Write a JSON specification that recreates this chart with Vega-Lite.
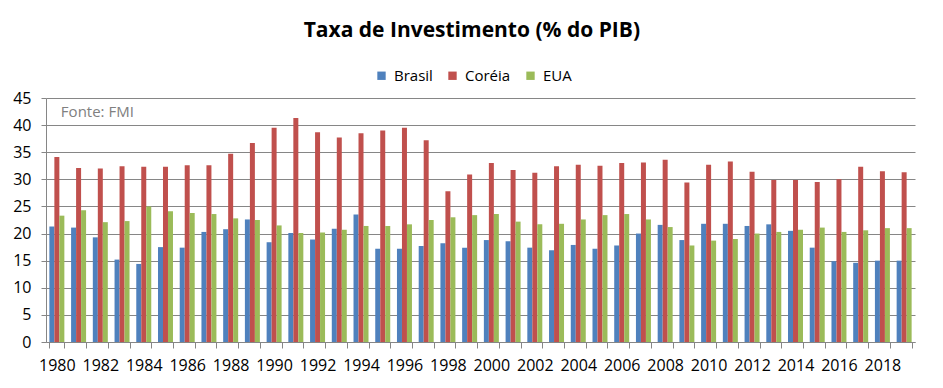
{
  "$schema": "https://vega.github.io/schema/vega-lite/v6.json",
  "width": 869,
  "height": 244,
  "padding": {"left": 12, "top": 20, "right": 24, "bottom": 10},
  "background": "white",
  "title": {
    "text": "Taxa de Investimento (% do PIB)",
    "font": "Open Sans",
    "fontSize": 21,
    "fontWeight": "bold",
    "color": "#000000",
    "anchor": "middle",
    "frame": "bounds",
    "dx": 8,
    "offset": 27
  },
  "config": {
    "view": {"stroke": null},
    "font": "Open Sans"
  },
  "datasets": {
    "inv": [
      {"Ano": "1980", "Pais": "Brasil", "Valor": 21.3}, {"Ano": "1980", "Pais": "Coréia", "Valor": 34.1}, {"Ano": "1980", "Pais": "EUA", "Valor": 23.3},
      {"Ano": "1981", "Pais": "Brasil", "Valor": 21.1}, {"Ano": "1981", "Pais": "Coréia", "Valor": 32.1}, {"Ano": "1981", "Pais": "EUA", "Valor": 24.3},
      {"Ano": "1982", "Pais": "Brasil", "Valor": 19.3}, {"Ano": "1982", "Pais": "Coréia", "Valor": 32.0}, {"Ano": "1982", "Pais": "EUA", "Valor": 22.1},
      {"Ano": "1983", "Pais": "Brasil", "Valor": 15.2}, {"Ano": "1983", "Pais": "Coréia", "Valor": 32.4}, {"Ano": "1983", "Pais": "EUA", "Valor": 22.3},
      {"Ano": "1984", "Pais": "Brasil", "Valor": 14.4}, {"Ano": "1984", "Pais": "Coréia", "Valor": 32.3}, {"Ano": "1984", "Pais": "EUA", "Valor": 25.0},
      {"Ano": "1985", "Pais": "Brasil", "Valor": 17.5}, {"Ano": "1985", "Pais": "Coréia", "Valor": 32.3}, {"Ano": "1985", "Pais": "EUA", "Valor": 24.1},
      {"Ano": "1986", "Pais": "Brasil", "Valor": 17.4}, {"Ano": "1986", "Pais": "Coréia", "Valor": 32.6}, {"Ano": "1986", "Pais": "EUA", "Valor": 23.8},
      {"Ano": "1987", "Pais": "Brasil", "Valor": 20.3}, {"Ano": "1987", "Pais": "Coréia", "Valor": 32.6}, {"Ano": "1987", "Pais": "EUA", "Valor": 23.6},
      {"Ano": "1988", "Pais": "Brasil", "Valor": 20.8}, {"Ano": "1988", "Pais": "Coréia", "Valor": 34.7}, {"Ano": "1988", "Pais": "EUA", "Valor": 22.8},
      {"Ano": "1989", "Pais": "Brasil", "Valor": 22.6}, {"Ano": "1989", "Pais": "Coréia", "Valor": 36.7}, {"Ano": "1989", "Pais": "EUA", "Valor": 22.5},
      {"Ano": "1990", "Pais": "Brasil", "Valor": 18.4}, {"Ano": "1990", "Pais": "Coréia", "Valor": 39.5}, {"Ano": "1990", "Pais": "EUA", "Valor": 21.5},
      {"Ano": "1991", "Pais": "Brasil", "Valor": 20.1}, {"Ano": "1991", "Pais": "Coréia", "Valor": 41.3}, {"Ano": "1991", "Pais": "EUA", "Valor": 20.1},
      {"Ano": "1992", "Pais": "Brasil", "Valor": 18.9}, {"Ano": "1992", "Pais": "Coréia", "Valor": 38.7}, {"Ano": "1992", "Pais": "EUA", "Valor": 20.2},
      {"Ano": "1993", "Pais": "Brasil", "Valor": 20.9}, {"Ano": "1993", "Pais": "Coréia", "Valor": 37.7}, {"Ano": "1993", "Pais": "EUA", "Valor": 20.7},
      {"Ano": "1994", "Pais": "Brasil", "Valor": 23.5}, {"Ano": "1994", "Pais": "Coréia", "Valor": 38.5}, {"Ano": "1994", "Pais": "EUA", "Valor": 21.4},
      {"Ano": "1995", "Pais": "Brasil", "Valor": 17.2}, {"Ano": "1995", "Pais": "Coréia", "Valor": 39.0}, {"Ano": "1995", "Pais": "EUA", "Valor": 21.4},
      {"Ano": "1996", "Pais": "Brasil", "Valor": 17.2}, {"Ano": "1996", "Pais": "Coréia", "Valor": 39.5}, {"Ano": "1996", "Pais": "EUA", "Valor": 21.7},
      {"Ano": "1997", "Pais": "Brasil", "Valor": 17.7}, {"Ano": "1997", "Pais": "Coréia", "Valor": 37.2}, {"Ano": "1997", "Pais": "EUA", "Valor": 22.5},
      {"Ano": "1998", "Pais": "Brasil", "Valor": 18.2}, {"Ano": "1998", "Pais": "Coréia", "Valor": 27.8}, {"Ano": "1998", "Pais": "EUA", "Valor": 23.0},
      {"Ano": "1999", "Pais": "Brasil", "Valor": 17.4}, {"Ano": "1999", "Pais": "Coréia", "Valor": 30.9}, {"Ano": "1999", "Pais": "EUA", "Valor": 23.4},
      {"Ano": "2000", "Pais": "Brasil", "Valor": 18.8}, {"Ano": "2000", "Pais": "Coréia", "Valor": 33.0}, {"Ano": "2000", "Pais": "EUA", "Valor": 23.6},
      {"Ano": "2001", "Pais": "Brasil", "Valor": 18.6}, {"Ano": "2001", "Pais": "Coréia", "Valor": 31.7}, {"Ano": "2001", "Pais": "EUA", "Valor": 22.2},
      {"Ano": "2002", "Pais": "Brasil", "Valor": 17.4}, {"Ano": "2002", "Pais": "Coréia", "Valor": 31.2}, {"Ano": "2002", "Pais": "EUA", "Valor": 21.7},
      {"Ano": "2003", "Pais": "Brasil", "Valor": 16.9}, {"Ano": "2003", "Pais": "Coréia", "Valor": 32.4}, {"Ano": "2003", "Pais": "EUA", "Valor": 21.8},
      {"Ano": "2004", "Pais": "Brasil", "Valor": 17.9}, {"Ano": "2004", "Pais": "Coréia", "Valor": 32.7}, {"Ano": "2004", "Pais": "EUA", "Valor": 22.6},
      {"Ano": "2005", "Pais": "Brasil", "Valor": 17.2}, {"Ano": "2005", "Pais": "Coréia", "Valor": 32.5}, {"Ano": "2005", "Pais": "EUA", "Valor": 23.4},
      {"Ano": "2006", "Pais": "Brasil", "Valor": 17.8}, {"Ano": "2006", "Pais": "Coréia", "Valor": 33.0}, {"Ano": "2006", "Pais": "EUA", "Valor": 23.6},
      {"Ano": "2007", "Pais": "Brasil", "Valor": 20.0}, {"Ano": "2007", "Pais": "Coréia", "Valor": 33.1}, {"Ano": "2007", "Pais": "EUA", "Valor": 22.6},
      {"Ano": "2008", "Pais": "Brasil", "Valor": 21.6}, {"Ano": "2008", "Pais": "Coréia", "Valor": 33.6}, {"Ano": "2008", "Pais": "EUA", "Valor": 21.2},
      {"Ano": "2009", "Pais": "Brasil", "Valor": 18.8}, {"Ano": "2009", "Pais": "Coréia", "Valor": 29.4}, {"Ano": "2009", "Pais": "EUA", "Valor": 17.8},
      {"Ano": "2010", "Pais": "Brasil", "Valor": 21.8}, {"Ano": "2010", "Pais": "Coréia", "Valor": 32.7}, {"Ano": "2010", "Pais": "EUA", "Valor": 18.7},
      {"Ano": "2011", "Pais": "Brasil", "Valor": 21.8}, {"Ano": "2011", "Pais": "Coréia", "Valor": 33.3}, {"Ano": "2011", "Pais": "EUA", "Valor": 19.0},
      {"Ano": "2012", "Pais": "Brasil", "Valor": 21.4}, {"Ano": "2012", "Pais": "Coréia", "Valor": 31.4}, {"Ano": "2012", "Pais": "EUA", "Valor": 20.0},
      {"Ano": "2013", "Pais": "Brasil", "Valor": 21.7}, {"Ano": "2013", "Pais": "Coréia", "Valor": 29.9}, {"Ano": "2013", "Pais": "EUA", "Valor": 20.3},
      {"Ano": "2014", "Pais": "Brasil", "Valor": 20.5}, {"Ano": "2014", "Pais": "Coréia", "Valor": 29.9}, {"Ano": "2014", "Pais": "EUA", "Valor": 20.7},
      {"Ano": "2015", "Pais": "Brasil", "Valor": 17.4}, {"Ano": "2015", "Pais": "Coréia", "Valor": 29.5}, {"Ano": "2015", "Pais": "EUA", "Valor": 21.1},
      {"Ano": "2016", "Pais": "Brasil", "Valor": 14.9}, {"Ano": "2016", "Pais": "Coréia", "Valor": 30.0}, {"Ano": "2016", "Pais": "EUA", "Valor": 20.3},
      {"Ano": "2017", "Pais": "Brasil", "Valor": 14.6}, {"Ano": "2017", "Pais": "Coréia", "Valor": 32.3}, {"Ano": "2017", "Pais": "EUA", "Valor": 20.6},
      {"Ano": "2018", "Pais": "Brasil", "Valor": 15.0}, {"Ano": "2018", "Pais": "Coréia", "Valor": 31.5}, {"Ano": "2018", "Pais": "EUA", "Valor": 21.0},
      {"Ano": "2019", "Pais": "Brasil", "Valor": 15.0}, {"Ano": "2019", "Pais": "Coréia", "Valor": 31.3}, {"Ano": "2019", "Pais": "EUA", "Valor": 21.0}
    ],
    "nota": [{"Ano": "1980", "Valor": 42.5, "Texto": "Fonte: FMI"}]
  },
  "encoding": {
    "x": {
      "field": "Ano",
      "type": "ordinal",
      "title": null,
      "scale": {"paddingInner": 0.31, "paddingOuter": 0.155},
      "axis": {
        "labelAngle": 0,
        "labelExpr": "toNumber(datum.value) % 2 == 0 ? datum.label : ''",
        "labelOverlap": false,
        "labelFont": "Open Sans",
        "labelFontSize": 16,
        "labelColor": "#000000",
        "labelPadding": 9,
        "tickBand": "extent",
        "tickSize": 6,
        "tickColor": "#868686",
        "domainColor": "#868686",
        "grid": false
      }
    },
    "y": {
      "field": "Valor",
      "type": "quantitative",
      "title": null,
      "scale": {"domain": [0, 45], "nice": false},
      "axis": {
        "values": [0, 5, 10, 15, 20, 25, 30, 35, 40, 45],
        "labelOverlap": false,
        "labelFont": "Open Sans",
        "labelFontSize": 16,
        "labelColor": "#000000",
        "labelPadding": 10,
        "tickSize": 5,
        "tickColor": "#868686",
        "domainColor": "#868686",
        "gridColor": "#868686",
        "gridWidth": 1
      }
    }
  },
  "layer": [
    {
      "data": {"name": "inv"},
      "mark": {"type": "bar"},
      "encoding": {
        "xOffset": {"field": "Pais", "type": "nominal", "sort": ["Brasil", "Coréia", "EUA"]},
        "color": {
          "field": "Pais",
          "type": "nominal",
          "sort": ["Brasil", "Coréia", "EUA"],
          "scale": {"domain": ["Brasil", "Coréia", "EUA"], "range": ["#4F81BD", "#C0504D", "#9BBB59"]},
          "legend": {
            "title": null,
            "orient": "none",
            "direction": "horizontal",
            "legendX": 328,
            "legendY": -30,
            "symbolType": "square",
            "symbolSize": 70,
            "symbolStrokeWidth": 0,
            "labelFont": "Open Sans",
            "labelFontSize": 15,
            "labelColor": "#000000",
            "labelOffset": 5,
            "columnPadding": 12
          }
        }
      }
    },
    {
      "data": {"name": "nota"},
      "mark": {"type": "text", "align": "left", "baseline": "middle", "dx": 4, "fontSize": 15, "font": "Open Sans", "color": "#808080"},
      "encoding": {
        "text": {"field": "Texto"}
      }
    }
  ]
}
